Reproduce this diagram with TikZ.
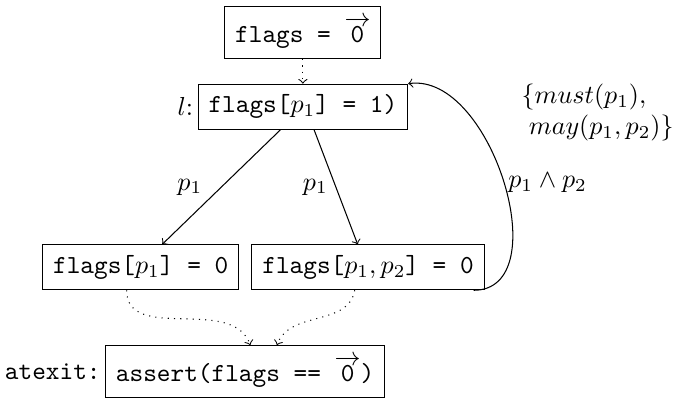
\documentclass[tikz,border=0pt]{standalone}
\usepackage{amsmath}
\usepackage{tikz}
\usetikzlibrary{calc,positioning}
\tikzset{
  stmt/.style={draw,font=\ttfamily,inner xsep=4pt,inner ysep=4pt},
  flow/.style={->},
  flowd/.style={->,dotted},
  lbl/.style={inner sep=1.5pt},
}
\newcommand{\zerovec}{\ensuremath{\overrightarrow{\mathtt{0}}}}

\begin{document}
\begin{tikzpicture}[x=1mm,y=1mm]
  \useasboundingbox (0,0) rectangle (92.5,53.7);

  \node[stmt] (init) at (40.9,49.3) {flags = \zerovec};
  \node[stmt] (l)    at (40.9,39.3) {flags[$p_1$] = 1)};
  \node[stmt] (left) at (19.0,17.6) {flags[$p_1$] = 0};
  \node[stmt] (right) at (49.7,17.6) {flags[$p_1,p_2$] = 0};
  \node[stmt] (assrt) at (33.1,3.5) {assert(flags == \zerovec)};

  \node[lbl,left=0pt of l] (llbl) {$l$:};
  \node[lbl,left=0pt of assrt,font=\ttfamily] (exitlbl) {atexit:};
  \node[lbl,align=left] (facts) at (80.7,38.5) {$\{must(p_1),$\\ $\;may(p_1,p_2)\}$};

  \draw[flowd] (init.south) -- (l.north);

  \draw[flow] ($(l.south)+(-3.0,0)$) -- node[lbl,left=2mm]{$p_1$} ($(left.north)+(2.9,0)$);
  \draw[flow] ($(l.south)+(1.5,0)$) -- node[lbl,left=0.5mm]{$p_1$} ($(right.north)+(-1.4,0)$);

  \draw[flow] ($(right.south east)+(-1.5,0)$) to[out=0,in=8,looseness=1]
    node[lbl,right,pos=0.5]{$p_1\wedge p_2$} (l.north east);

  \draw[flowd] ($(left.south)+(-1.9,0)$) to[out=-90,in=110] ($(assrt.north)+(0.7,0)$);
  \draw[flowd] ($(right.south)+(-1.8,0)$) to[out=-100,in=70] ($(assrt.north)+(4.3,0)$);
\end{tikzpicture}
\end{document}
